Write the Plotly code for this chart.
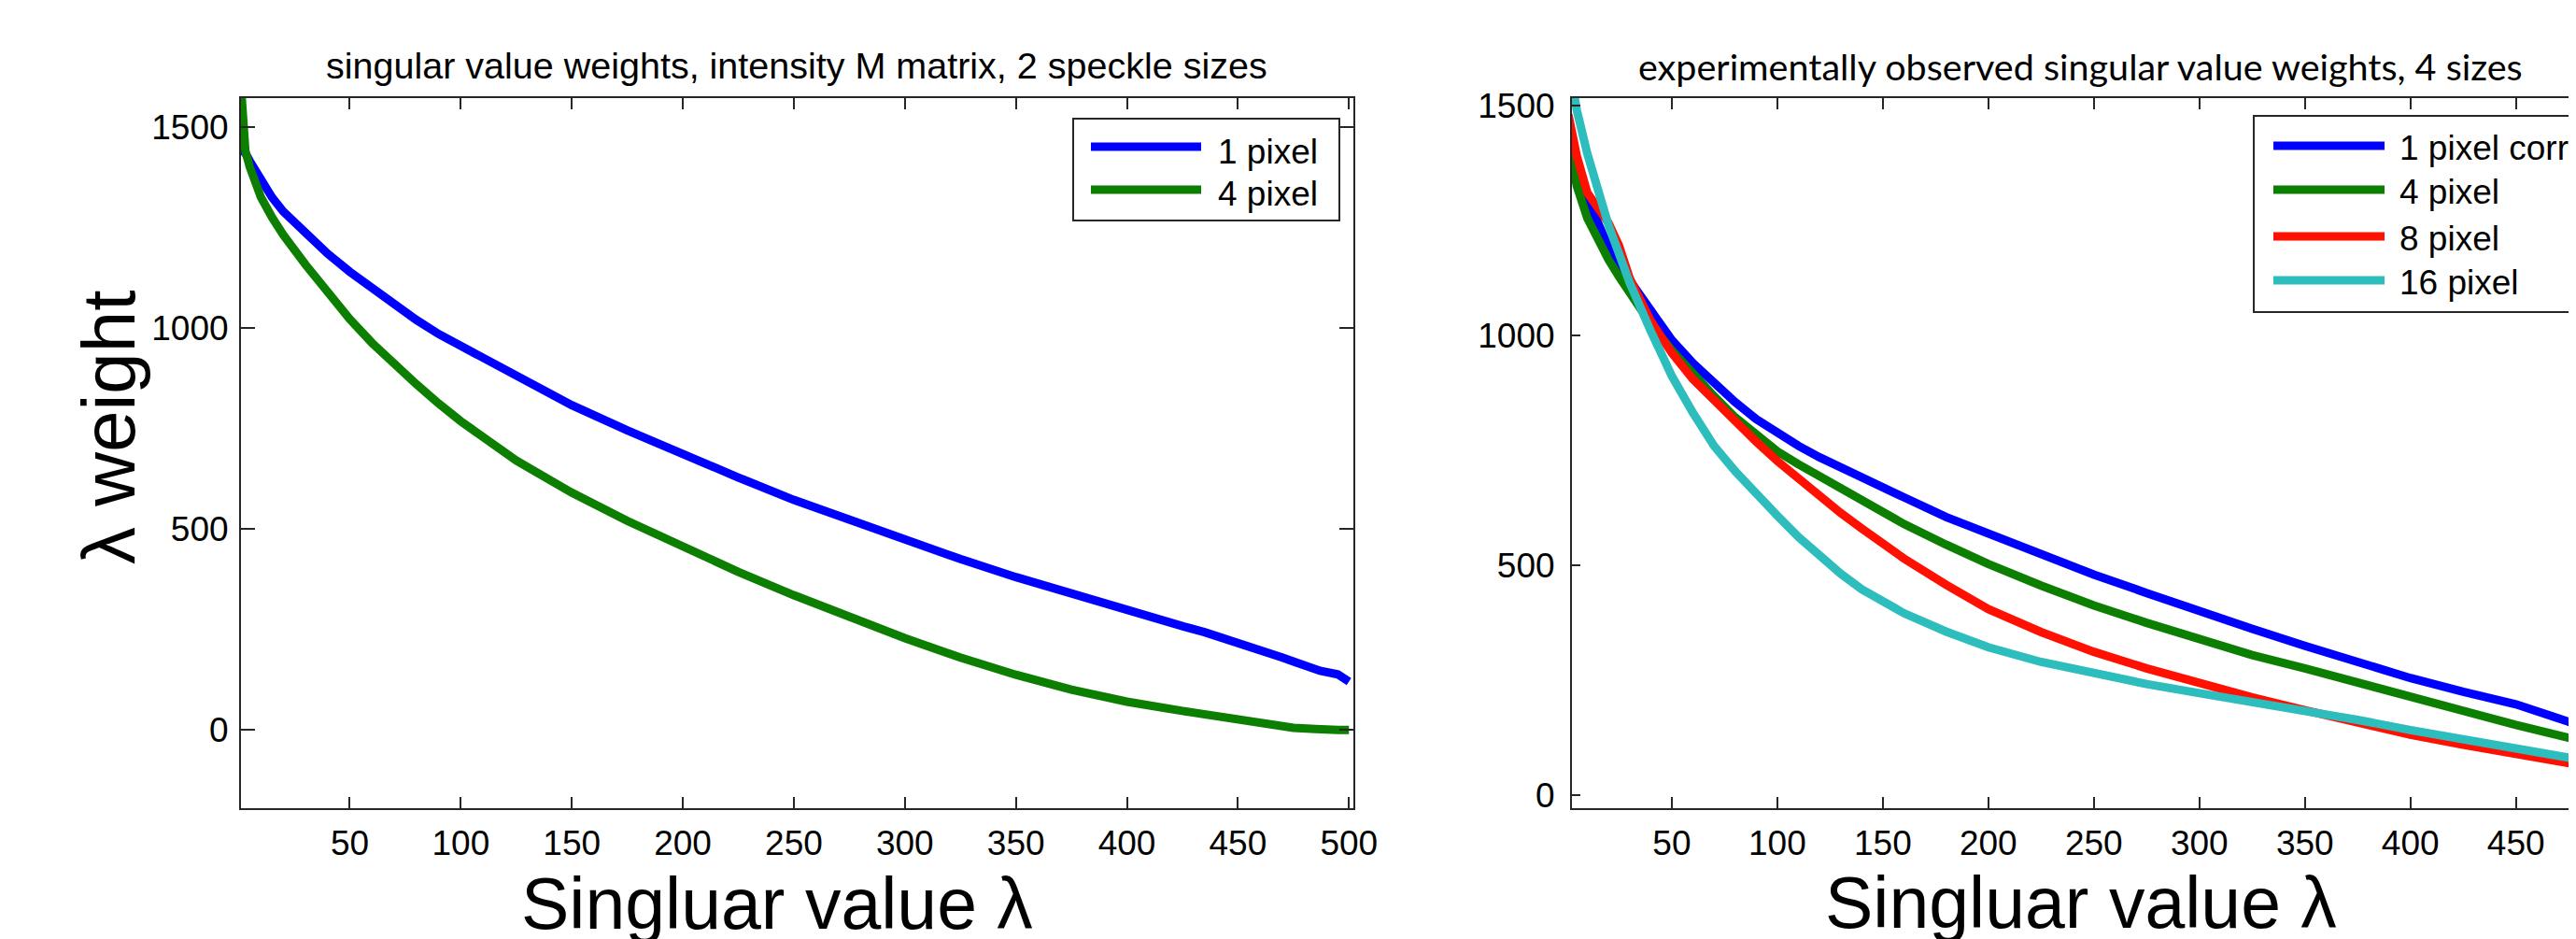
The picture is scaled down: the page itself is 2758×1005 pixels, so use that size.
import plotly.graph_objects as go

W, H = 2758, 1005

# ---------------- data ----------------
x_left = [1, 2, 3, 5, 10, 15, 20, 30, 40, 50, 60, 70, 80, 90, 100, 125, 150, 175,
          200, 225, 250, 275, 300, 325, 350, 375, 400, 425, 435, 445, 455, 465,
          470, 475, 485, 487, 495, 500]
left_1px = [1445, 1440, 1435, 1415, 1365, 1325, 1290, 1235, 1185, 1140, 1098, 1058,
            1020, 985, 955, 880, 808, 745, 685, 628, 572, 522, 472, 425, 380, 338,
            297, 258, 243, 226, 210, 192, 180, 170, 150, 147, 138, 120]
left_4px = [1600, 1500, 1440, 1400, 1325, 1275, 1232, 1158, 1087, 1022, 963, 910,
            860, 812, 768, 670, 590, 520, 455, 393, 335, 280, 228, 180, 137, 100,
            70, 47, 38, 27, 18, 12, 8, 5, 2, 1, 0, 0]

x_right = [1, 3, 5, 10, 15, 20, 25, 30, 40, 50, 60, 70, 80, 90, 100, 110, 120, 130,
           140, 150, 160, 180, 200, 225, 250, 275, 300, 325, 350, 375, 400, 425,
           450, 475, 485]
right_1px = [1395, 1372, 1348, 1296, 1245, 1192, 1155, 1120, 1055, 990, 940, 895, 855,
             818, 788, 760, 735, 712, 690, 668, 648, 605, 568, 523, 480, 440, 400,
             362, 325, 289, 255, 225, 198, 160, 143]
right_4px = [1420, 1365, 1325, 1255, 1205, 1165, 1128, 1092, 1025, 968, 915, 868, 822,
             782, 748, 720, 693, 666, 640, 613, 590, 545, 503, 456, 413, 375, 338,
             305, 276, 245, 213, 183, 153, 125, 113]
right_8px = [1480, 1430, 1390, 1310, 1275, 1245, 1195, 1125, 1032, 962, 905, 858, 812,
             769, 727, 688, 650, 614, 580, 545, 515, 458, 405, 355, 312, 276, 244,
             213, 185, 157, 132, 110, 90, 70, 62]
right_16px = [1600, 1545, 1490, 1395, 1315, 1240, 1178, 1115, 1010, 912, 832, 760, 705,
              655, 608, 562, 520, 482, 448, 420, 396, 356, 322, 290, 265, 242, 222,
              204, 186, 164, 142, 121, 101, 82, 74]

x_ticks_left = [50, 100, 150, 200, 250, 300, 350, 400, 450, 500]
x_ticks_right = [50, 100, 150, 200, 250, 300, 350, 400, 450]
y_ticks = [0, 500, 1000, 1500]

left_names = ["1 pixel", "4 pixel"]
right_names = ["1 pixel corr.", "4 pixel", "8 pixel", "16 pixel"]

BLUE, GREEN, RED, CYAN = "#0000FF", "#0C7F00", "#FF1000", "#2EBDBD"
left_colors = [BLUE, GREEN]
right_colors = [BLUE, GREEN, RED, CYAN]

left_title = "singular value weights, intensity M matrix, 2 speckle sizes"
right_title = "experimentally observed singular value weights, 4 sizes"
x_label = "Singluar value \u03bb"
y_label = "\u03bb weight"

# ---------------- layout helpers ----------------
def px(x):
    return x / W


def py(y):
    return 1 - y / H


FONT = "Liberation Sans, Arial, Helvetica, sans-serif"
AX = "#262626"
LW = 9

fig = go.Figure()
for name, vals, col in zip(left_names, [left_1px, left_4px], left_colors):
    fig.add_trace(go.Scatter(x=x_left, y=vals, mode="lines", name=name,
                             line=dict(color=col, width=LW), showlegend=False,
                             xaxis="x", yaxis="y"))
for name, vals, col in zip(right_names, [right_1px, right_4px, right_8px, right_16px],
                           right_colors):
    fig.add_trace(go.Scatter(x=x_right, y=vals, mode="lines", name=name,
                             line=dict(color=col, width=LW), showlegend=False,
                             xaxis="x2", yaxis="y2"))

axis_common = dict(showgrid=False, zeroline=False, showline=True, linewidth=2,
                   linecolor=AX, ticks="inside", tickwidth=2, tickcolor=AX,
                   tickfont=dict(family=FONT, size=37, color="black"))

fig.update_layout(
    width=W, height=H,
    margin=dict(l=0, r=0, t=0, b=0, autoexpand=False),
    paper_bgcolor="white", plot_bgcolor="white",
    font=dict(family=FONT, color="black"),
    showlegend=False,
    xaxis=dict(domain=[px(250), px(1441)], range=[1, 502], tickvals=x_ticks_left,
               ticklen=12, mirror="ticks", anchor="y", ticklabelstandoff=4,
               **axis_common),
    yaxis=dict(domain=[py(857), py(97)], range=[-195, 1572], tickvals=y_ticks,
               ticklen=15, mirror="ticks", anchor="x", ticklabelstandoff=4,
               **axis_common),
    xaxis2=dict(domain=[px(1675), 1.0], range=[2.7, 482], tickvals=x_ticks_right,
                ticklen=12, mirror="ticks", anchor="y2", ticklabelstandoff=4,
                **axis_common),
    yaxis2=dict(domain=[py(857), py(97)], range=[-28, 1516], tickvals=y_ticks,
                ticklen=9, mirror=False, anchor="x2", ticklabelstandoff=9,
                **axis_common),
)

ann = []
def text(x, y, s, size, family=FONT, xanchor="center", angle=0):
    ann.append(dict(x=px(x), y=py(y), xref="paper", yref="paper", text=s,
                    showarrow=False, xanchor=xanchor, yanchor="middle",
                    textangle=angle, borderpad=0,
                    font=dict(family=family, size=size, color="black")))

text(845, 62, left_title, 39.5)
text(2219, 62, right_title, 39.5, family="Lato, Open Sans, sans-serif")
text(824, 959, x_label, 77)
text(2220, 958, x_label, 77)
text(109, 450, y_label, 80, angle=-90)

shapes = []
def legend(x0, x1, y0, y1, line_x0, line_x1, text_x, row_y, names, colors, dy_text):
    shapes.append(dict(type="rect", xref="paper", yref="paper", x0=px(x0), x1=px(x1),
                       y0=py(y1), y1=py(y0), line=dict(color=AX, width=2),
                       fillcolor="white", layer="above"))
    for i, (nm, col) in enumerate(zip(names, colors)):
        yy = row_y[i]
        shapes.append(dict(type="line", xref="paper", yref="paper", x0=px(line_x0),
                           x1=px(line_x1), y0=py(yy), y1=py(yy),
                           line=dict(color=col, width=LW), layer="above"))
        text(text_x, yy + dy_text, nm, 37, xanchor="left")

legend(1141, 1426, 119, 228, 1160, 1278, 1295, [149, 195], left_names, left_colors, 5)
legend(2405, 2820, 116, 326, 2426, 2545, 2560, [148, 195, 245, 292], right_names,
       right_colors, 2)

fig.update_layout(annotations=ann, shapes=shapes)
fig.write_html("out.html")
